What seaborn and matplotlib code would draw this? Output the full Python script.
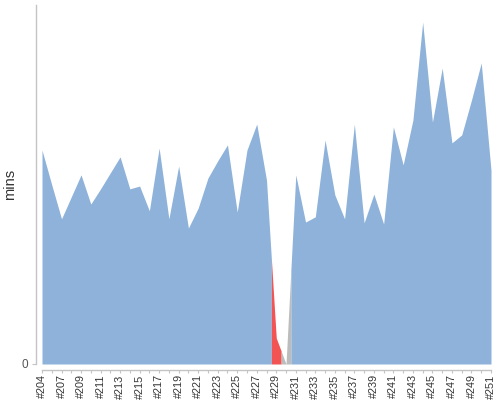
import numpy as np
import pandas as pd
import matplotlib
matplotlib.use("Agg")
import matplotlib.pyplot as plt
import seaborn as sns

# ---- data ----
builds = ["#204", "#205"] + [f"#{n}" for n in range(207, 252)]
duration_mins = [
    0.535, 0.448, 0.363, 0.418, 0.473, 0.400, 0.438, 0.478, 0.518, 0.438,
    0.445, 0.383, 0.540, 0.363, 0.495, 0.340, 0.390, 0.465, 0.508, 0.548,
    0.380, 0.535, 0.600, 0.460, 0.065, 0.000, 0.473, 0.355, 0.368, 0.560,
    0.423, 0.363, 0.600, 0.353, 0.425, 0.350, 0.593, 0.498, 0.610, 0.855,
    0.605, 0.740, 0.553, 0.573, 0.660, 0.753, 0.485,
]
results = ["SUCCESS"] * len(builds)
results[24] = "FAILURE"
results[25] = "ABORTED"
status_colors = {"SUCCESS": "#8EB2D9", "FAILURE": "#F25454", "ABORTED": "#BCBCBC"}

df = pd.DataFrame({"build": builds, "mins": duration_mins, "result": results})
df["pos"] = np.arange(len(df))

sns.set_theme(style="white")
plt.rcParams["font.family"] = ["Liberation Sans", "DejaVu Sans"]

fig = plt.figure(figsize=(5, 4), dpi=100)
ax = fig.add_axes([42 / 500, 1 - 364 / 400, (491 - 42) / 500, (364 - 5) / 400])

# stacked-area style rendering: each build owns the span between midpoints,
# coloured by its result; runs of equal colour are merged into one polygon
n = len(df)
v = df["mins"].to_numpy()
segments = []
for i in range(n):
    xs, ys = [], []
    if i > 0:
        xs.append(i - 0.5); ys.append((v[i - 1] + v[i]) / 2)
    xs.append(i); ys.append(v[i])
    if i < n - 1:
        xs.append(i + 0.5); ys.append((v[i] + v[i + 1]) / 2)
    c = status_colors[df["result"].iloc[i]]
    if segments and segments[-1][0] == c:
        segments[-1][1].extend(xs[1:] if i > 0 else xs)
        segments[-1][2].extend(ys[1:] if i > 0 else ys)
    else:
        segments.append([c, xs, ys])
for c, xs, ys in segments:
    ax.fill_between(xs, 0, ys, color=c, linewidth=0, antialiased=True)

sns.despine(ax=ax, offset={"left": 4, "bottom": 4})
for s in ["left", "bottom"]:
    ax.spines[s].set_color("#c4c4c4")
    ax.spines[s].set_linewidth(1.0)

ax.set_xlim(0, n - 1)
ax.set_ylim(0, max(duration_mins) * 1.05)
ax.set_yticks([0])
ax.set_yticklabels(["0"], fontsize=8.5, color="#555555")
ax.set_xticks(df["pos"])
ax.set_xticklabels([b if k % 2 == 0 else "" for k, b in enumerate(builds)],
                   rotation=90, fontsize=7.8, color="#333333")
ax.set_ylabel("mins", fontsize=10.5, color="#333333", labelpad=3)
ax.set_xlabel("")

ax.tick_params(axis="x", bottom=True, length=2.2, width=0.8, color="#c4c4c4", pad=1.2)
ax.tick_params(axis="y", left=True, length=3, width=0.8, color="#c4c4c4", pad=3)
ax.grid(False)

fig.savefig("out.png", dpi=100)
